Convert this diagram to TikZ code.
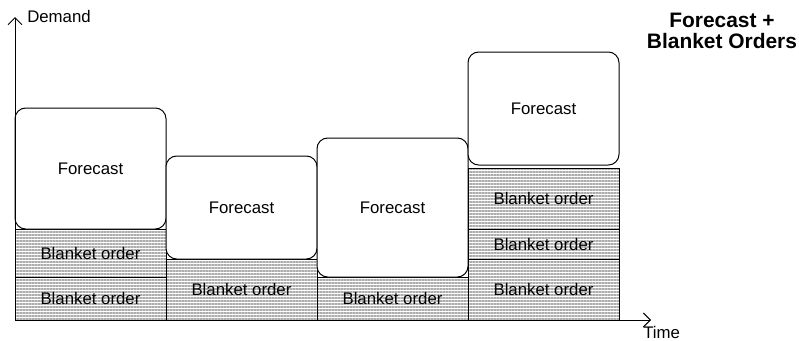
\documentclass[tikz,border=0pt]{standalone}
\usepackage{fontspec}
\setmainfont{Liberation Sans}
\usetikzlibrary{patterns.meta,arrows.meta}

\begin{document}
\begin{tikzpicture}[x=0.75pt,y=-0.75pt,
  lbl/.style={font=\fontsize{12.6}{15}\selectfont, inner sep=0pt},
  cell/.style 2 args={minimum width=#1*0.75pt, minimum height=#2*0.75pt, anchor=center},
  fcbox/.style={draw, line width=0.75pt, rounded corners=8pt, fill=white, inner sep=0pt, lbl},
  bobox/.style={draw, line width=0.75pt, inner sep=0pt, lbl,
    pattern={Lines[angle=0,distance=2.25pt,line width=0.8pt]}, pattern color=black!32},
  axis/.style={line width=0.75pt, -{Straight Barb[length=5.25pt,width=10.5pt,line width=0.75pt]}},
  heading/.style={font=\fontsize{15.7}{15.75}\selectfont\bfseries, align=center, inner sep=0pt}
]
\useasboundingbox (0,0) rectangle (799,340);

% period 1
\node[bobox, cell={151}{48}] (b1a) at (90.5,253) {Blanket order};
\node[bobox, cell={151}{43}] (b1b) at (90.5,298.5) {Blanket order};
\node[fcbox, cell={151}{121}] (f1) at (90.5,168.5) {Forecast};

% period 2
\node[bobox, cell={151}{61}] (b2) at (241.5,289.5) {Blanket order};
\node[fcbox, cell={151}{103}] (f2) at (241.5,207.5) {Forecast};

% period 3
\node[bobox, cell={151}{43}] (b3) at (392.5,298.5) {Blanket order};
\node[fcbox, cell={151}{139}] (f3) at (392.5,207.5) {Forecast};

% period 4
\node[bobox, cell={151}{61}] (b4a) at (543.5,198.5) {Blanket order};
\node[bobox, cell={151}{30}] (b4b) at (543.5,244) {Blanket order};
\node[bobox, cell={151}{61}] (b4c) at (543.5,289.5) {Blanket order};
\node[fcbox, cell={151}{113}] (f4) at (543.5,108.5) {Forecast};

% axes
\coordinate (O) at (15,320);
\coordinate (ytip) at (15,17);
\coordinate (xtip) at (651,320);
\draw[axis] (O) -- (ytip);
\draw[axis] (O) -- (xtip);
\node[lbl, anchor=west] (demand) at (27,16) {Demand};
\node[lbl, anchor=west] (time) at (643,332) {Time};

% heading
\node[heading] (title) at (722,31) {Forecast +\\Blanket Orders};
\end{tikzpicture}
\end{document}
